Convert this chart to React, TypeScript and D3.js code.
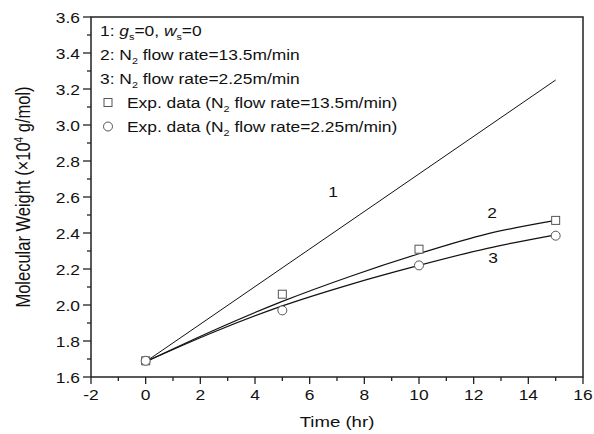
import React from "react";
import * as d3 from "d3";

const line1T = [0, 15];
const line1W = [1.685, 3.25];
const curveT = [0, 2.5, 5, 7.5, 10, 12.5, 15];
const curve2W = [1.685, 1.86, 2.02, 2.16, 2.285, 2.395, 2.47];
const curve3W = [1.685, 1.85, 1.995, 2.115, 2.22, 2.315, 2.39];
const expT = [0, 5, 10, 15];
const expSquare = [1.69, 2.06, 2.31, 2.47];
const expCircle = [1.69, 1.97, 2.22, 2.385];
const xTicks = [-2, 0, 2, 4, 6, 8, 10, 12, 14, 16];
const yTicks = [1.6, 1.8, 2.0, 2.2, 2.4, 2.6, 2.8, 3.0, 3.2, 3.4, 3.6];

const W = 594, H = 434;
const L = 91, R = 583, T = 17, B = 377;
const FONT = "Liberation Sans, Arial, sans-serif";
const SX = 1.2;

function Txt(props: { x: number; y: number; size: number; anchor?: string; rotate?: boolean; children: React.ReactNode }) {
  const { x, y, size, anchor, rotate, children } = props;
  return (
    <g transform={`translate(${x},${y}) scale(${SX},1)${rotate ? " rotate(-90)" : ""}`}>
      <text x={0} y={0} fontSize={size} textAnchor={anchor || "start"} fill="#111">{children}</text>
    </g>
  );
}

export default function App() {
  const x = d3.scaleLinear().domain([-2, 16]).range([L, R]);
  const y = d3.scaleLinear().domain([1.6, 3.6]).range([B, T]);
  const lineGen = d3.line<[number, number]>().x(d => x(d[0])).y(d => y(d[1]));
  const curveGen = d3.line<[number, number]>().x(d => x(d[0])).y(d => y(d[1])).curve(d3.curveMonotoneX);
  const l1 = line1T.map((t, i) => [t, line1W[i]] as [number, number]);
  const c2 = curveT.map((t, i) => [t, curve2W[i]] as [number, number]);
  const c3 = curveT.map((t, i) => [t, curve3W[i]] as [number, number]);
  const xMinor = d3.range(-2, 16.01, 1);
  const yMinor = d3.range(1.6, 3.601, 0.1);
  const legendY0 = 35.5;
  const dy = 24;
  const fs = 14.5;
  const sub = 9;
  return (
    <svg width={W} height={H} style={{ position: "absolute", left: 0, top: 0, background: "#fff" }} fontFamily={FONT}>
      <rect x={0} y={0} width={W} height={H} fill="#fff" />
      <rect x={L} y={T} width={R - L} height={B - T} fill="none" stroke="#222" strokeWidth={1.5} />
      {xMinor.map(v => (
        <line key={"xm" + v} x1={x(v)} x2={x(v)} y1={B} y2={B + (Math.round(v) % 2 === 0 ? 7 : 4)} stroke="#222" strokeWidth={1.3} />
      ))}
      {xTicks.map(v => (
        <Txt key={"xt" + v} x={x(v)} y={400} size={fs} anchor="middle">{v}</Txt>
      ))}
      {yMinor.map((v, i) => (
        <line key={"ym" + i} x1={L} x2={L - (i % 2 === 0 ? 8 : 4)} y1={y(v)} y2={y(v)} stroke="#222" strokeWidth={1.3} />
      ))}
      {yTicks.map(v => (
        <Txt key={"yt" + v} x={80} y={y(v) + 5.5} size={fs} anchor="end">{v.toFixed(1)}</Txt>
      ))}
      <Txt x={x(7)} y={427} size={15.5} anchor="middle">Time (hr)</Txt>
      <Txt x={30} y={(T + B) / 2} size={16.5} anchor="middle" rotate>
        Molecular Weight (×10<tspan dy={-6} fontSize={10}>4</tspan><tspan dy={6}> g/mol)</tspan>
      </Txt>
      <path d={lineGen(l1) || ""} fill="none" stroke="#111" strokeWidth={1} />
      <path d={curveGen(c2) || ""} fill="none" stroke="#111" strokeWidth={1.2} />
      <path d={curveGen(c3) || ""} fill="none" stroke="#111" strokeWidth={1.2} />
      {expT.map((t, i) => (
        <rect key={"sq" + i} x={x(t) - 4} y={y(expSquare[i]) - 4} width={8} height={8} fill="#fff" stroke="#555" strokeWidth={1} />
      ))}
      {expT.map((t, i) => (
        <circle key={"ci" + i} cx={x(t)} cy={y(expCircle[i])} r={4.5} fill="#fff" stroke="#555" strokeWidth={1} />
      ))}
      <Txt x={333} y={197} size={fs} anchor="middle">1</Txt>
      <Txt x={492} y={218} size={fs} anchor="middle">2</Txt>
      <Txt x={493} y={263} size={fs} anchor="middle">3</Txt>
      <Txt x={100} y={legendY0} size={fs}>
        1: <tspan fontStyle="italic">g</tspan><tspan fontSize={sub} dy={4}>s</tspan><tspan dy={-4}>=0, </tspan><tspan fontStyle="italic">w</tspan><tspan fontSize={sub} dy={4}>s</tspan><tspan dy={-4}>=0</tspan>
      </Txt>
      <Txt x={100} y={legendY0 + dy} size={fs}>
        2: N<tspan fontSize={sub} dy={4}>2</tspan><tspan dy={-4}> flow rate=13.5m/min</tspan>
      </Txt>
      <Txt x={100} y={legendY0 + 2 * dy} size={fs}>
        3: N<tspan fontSize={sub} dy={4}>2</tspan><tspan dy={-4}> flow rate=2.25m/min</tspan>
      </Txt>
      <rect x={104} y={legendY0 + 3 * dy - 9} width={8} height={8} fill="#fff" stroke="#555" strokeWidth={1} />
      <Txt x={127} y={legendY0 + 3 * dy} size={fs}>
        Exp. data (N<tspan fontSize={sub} dy={4}>2</tspan><tspan dy={-4}> flow rate=13.5m/min)</tspan>
      </Txt>
      <circle cx={108} cy={legendY0 + 4 * dy - 5} r={4.5} fill="#fff" stroke="#555" strokeWidth={1} />
      <Txt x={127} y={legendY0 + 4 * dy} size={fs}>
        Exp. data (N<tspan fontSize={sub} dy={4}>2</tspan><tspan dy={-4}> flow rate=2.25m/min)</tspan>
      </Txt>
    </svg>
  );
}
